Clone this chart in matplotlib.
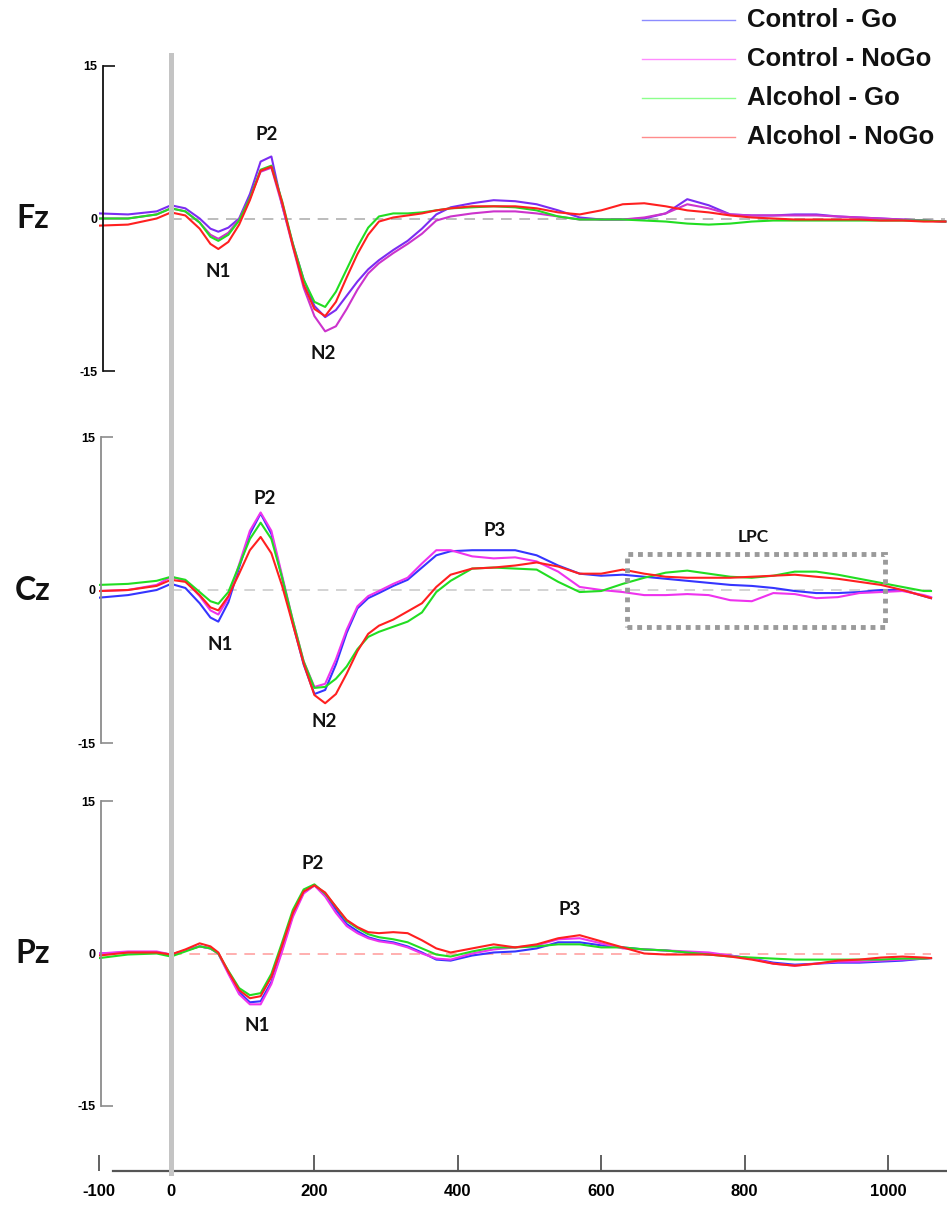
import matplotlib
matplotlib.use('Agg')
from matplotlib import pyplot as plt
from matplotlib.lines import Line2D
from matplotlib.patches import Rectangle
from matplotlib import transforms

plt.rcParams['axes.unicode_minus'] = False

# time points (ms)
times = [-100, -60, -20, 0, 20, 40, 55, 66, 80, 95, 110, 125, 140, 155, 170, 185,
         200, 215, 230, 245, 260, 275, 290, 310, 330, 350, 370, 390, 420, 450, 480,
         510, 540, 570, 600, 630, 660, 690, 720, 750, 780, 810, 840, 870, 900, 930,
         960, 990, 1020, 1050]
times_fz = times + [1080]
times_cp = times + [1060]

conditions = ['Control - Go', 'Control - NoGo', 'Alcohol - Go', 'Alcohol - NoGo']

# Fz (uV)
fz_control_go = [0.5, 0.4, 0.7, 1.3, 1.0, 0.0, -1.0, -1.3, -0.9, 0.0, 2.4, 5.6, 6.1, 1.3, -2.5, -6.0,
                 -8.6, -9.7, -9.0, -7.6, -6.2, -5.0, -4.1, -3.1, -2.2, -1.0, 0.4, 1.1, 1.5, 1.8, 1.7,
                 1.4, 0.8, 0.1, -0.1, -0.1, 0.0, 0.5, 1.9, 1.3, 0.4, 0.3, 0.3, 0.4, 0.4, 0.2,
                 0.1, 0.0, -0.1, -0.2, -0.3]
fz_control_nogo = [0.0, 0.0, 0.4, 1.0, 0.7, -0.4, -1.6, -2.0, -1.4, -0.1, 2.0, 4.6, 5.0, 1.3, -2.8, -6.8,
                   -9.6, -11.1, -10.6, -8.9, -7.0, -5.4, -4.4, -3.4, -2.5, -1.5, -0.2, 0.2, 0.5, 0.7, 0.7,
                   0.5, 0.2, -0.1, -0.1, -0.1, 0.1, 0.5, 1.4, 1.0, 0.4, 0.3, 0.3, 0.3, 0.3, 0.2,
                   0.1, 0.0, -0.1, -0.2, -0.3]
fz_alcohol_go = [0.0, 0.0, 0.4, 1.0, 0.7, -0.4, -1.8, -2.2, -1.6, -0.2, 2.0, 4.8, 5.2, 1.7, -2.5, -6.0,
                 -8.2, -8.7, -7.2, -5.0, -2.8, -0.9, 0.2, 0.5, 0.5, 0.6, 0.8, 1.0, 1.1, 1.2, 1.1,
                 0.8, 0.2, -0.1, -0.1, -0.1, -0.2, -0.3, -0.5, -0.6, -0.5, -0.3, -0.2, -0.2, -0.2, -0.2,
                 -0.2, -0.2, -0.2, -0.2, -0.3]
fz_alcohol_nogo = [-0.7, -0.6, 0.0, 0.6, 0.3, -1.0, -2.5, -3.0, -2.3, -0.6, 1.8, 4.7, 5.1, 1.6, -2.7, -6.5,
                   -8.9, -9.6, -8.2, -5.8, -3.5, -1.6, -0.3, 0.1, 0.3, 0.5, 0.8, 1.0, 1.2, 1.2, 1.2,
                   1.0, 0.6, 0.4, 0.8, 1.4, 1.5, 1.2, 0.8, 0.6, 0.3, 0.1, 0.0, -0.1, -0.1, -0.1,
                   -0.1, -0.2, -0.2, -0.3, -0.3]

# Cz (uV)
cz_control_go = [-0.75, -0.5, 0.0, 0.6, 0.2, -1.3, -2.7, -3.1, -1.2, 2.2, 5.5, 7.5, 5.5, 1.2, -3.3, -7.3,
                 -10.2, -9.8, -7.3, -4.2, -1.8, -0.8, -0.3, 0.4, 1.0, 2.2, 3.4, 3.8, 3.9, 3.9, 3.9,
                 3.4, 2.4, 1.6, 1.4, 1.5, 1.3, 1.1, 0.9, 0.7, 0.5, 0.4, 0.2, -0.1, -0.3, -0.3,
                 -0.2, 0.0, 0.0, -0.6, -0.8]
cz_control_nogo = [-0.1, 0.0, 0.5, 1.3, 0.9, -0.6, -2.0, -2.4, -0.8, 2.5, 5.8, 7.6, 5.8, 1.4, -3.0, -7.0,
                   -9.5, -9.2, -6.8, -3.9, -1.6, -0.6, -0.1, 0.6, 1.2, 2.6, 3.9, 3.9, 3.3, 3.1, 3.2,
                   2.8, 1.8, 0.3, 0.0, -0.2, -0.5, -0.5, -0.4, -0.5, -1.0, -1.1, -0.3, -0.4, -0.8, -0.7,
                   -0.3, -0.2, -0.1, -0.5, -0.7]
cz_alcohol_go = [0.5, 0.6, 0.9, 1.3, 1.0, -0.2, -1.1, -1.35, -0.2, 2.4, 5.0, 6.6, 5.0, 1.2, -3.0, -7.0,
                 -9.6, -9.5, -8.7, -7.5, -5.8, -4.6, -4.1, -3.6, -3.1, -2.2, -0.2, 0.9, 2.1, 2.2, 2.1,
                 2.0, 0.8, -0.2, -0.1, 0.6, 1.2, 1.7, 1.9, 1.6, 1.3, 1.2, 1.4, 1.8, 1.8, 1.5,
                 1.1, 0.7, 0.3, -0.1, -0.1]
cz_alcohol_nogo = [-0.1, 0.0, 0.4, 1.0, 0.8, -0.5, -1.7, -2.0, -0.6, 1.6, 3.9, 5.2, 3.6, 0.4, -3.4, -7.2,
                   -10.3, -11.1, -10.2, -8.2, -6.0, -4.3, -3.5, -2.9, -2.1, -1.3, 0.3, 1.5, 2.1, 2.2, 2.4,
                   2.7, 2.3, 1.6, 1.6, 2.0, 1.6, 1.3, 1.2, 1.2, 1.2, 1.3, 1.4, 1.5, 1.3, 1.1,
                   0.8, 0.5, 0.0, -0.6, -0.8]

# Pz (uV)
pz_control_go = [0.0, 0.1, 0.1, -0.1, 0.3, 0.7, 0.5, 0.0, -1.9, -3.8, -4.8, -4.7, -2.8, 0.4, 3.8, 6.0,
                 6.7, 5.8, 4.3, 2.9, 2.2, 1.6, 1.3, 1.1, 0.7, 0.1, -0.6, -0.7, -0.2, 0.1, 0.2,
                 0.5, 1.1, 1.1, 0.8, 0.6, 0.4, 0.3, 0.1, -0.1, -0.2, -0.5, -0.9, -1.1, -1.0, -0.9,
                 -0.9, -0.8, -0.7, -0.5, -0.45]
pz_control_nogo = [0.0, 0.2, 0.2, -0.1, 0.3, 0.7, 0.5, 0.0, -2.0, -4.0, -5.0, -5.0, -3.0, 0.2, 3.6, 5.9,
                   6.7, 5.6, 4.0, 2.7, 2.0, 1.5, 1.2, 1.0, 0.6, 0.0, -0.5, -0.6, 0.0, 0.4, 0.6,
                   0.8, 1.4, 1.5, 1.0, 0.5, 0.4, 0.3, 0.2, 0.1, -0.2, -0.5, -1.0, -1.2, -1.0, -0.8,
                   -0.8, -0.7, -0.6, -0.5, -0.45]
pz_alcohol_go = [-0.45, -0.1, 0.0, -0.3, 0.2, 0.7, 0.5, 0.0, -1.7, -3.4, -4.1, -3.9, -2.0, 1.1, 4.3, 6.3,
                 6.8, 5.9, 4.6, 3.2, 2.5, 1.9, 1.6, 1.4, 1.1, 0.5, -0.1, -0.3, 0.2, 0.6, 0.6,
                 0.7, 0.9, 0.9, 0.6, 0.6, 0.4, 0.3, 0.1, -0.1, -0.3, -0.4, -0.5, -0.6, -0.6, -0.6,
                 -0.6, -0.6, -0.5, -0.5, -0.45]
pz_alcohol_nogo = [-0.2, 0.1, 0.1, -0.1, 0.4, 1.0, 0.7, 0.1, -1.8, -3.6, -4.4, -4.2, -2.3, 0.8, 4.0, 6.1,
                   6.7, 6.0, 4.6, 3.3, 2.6, 2.1, 2.0, 2.1, 2.0, 1.3, 0.5, 0.1, 0.5, 0.9, 0.6,
                   0.9, 1.5, 1.8, 1.2, 0.6, 0.0, -0.1, -0.1, -0.1, -0.3, -0.6, -1.0, -1.2, -1.0, -0.7,
                   -0.6, -0.4, -0.3, -0.4, -0.45]

W, H = 947, 1205
fig = plt.figure(figsize=(W / 100.0, H / 100.0), dpi=100)

# pixel layout: 0 ms sits at x=171 px, 0.717 px per ms
X0_PX = 171.0
PX_PER_MS = 0.717
XMIN = -100.0
XMAX = (W - X0_PX) / PX_PER_MS
LEFT = (X0_PX + XMIN * PX_PER_MS) / W
WIDTH = 1.0 - LEFT


def rect(top_px, bottom_px):
    return [LEFT, 1.0 - bottom_px / H, WIDTH, (bottom_px - top_px) / H]


label_font = 'Lato'
tick_font = 'Liberation Sans'

panels = [
    dict(name='Fz', t=times_fz, top=66, bottom=371, spine='#111111', spine_x=-95,
         zero_color='#AAAAAA',
         series=[fz_control_go, fz_control_nogo, fz_alcohol_go, fz_alcohol_nogo],
         colors=['#7B2CF2', '#CC33CC', '#22DD22', '#FF2020'],
         peaks=[('P2', 134, 8.3), ('N1', 66, -5.2), ('N2', 212, -13.3)]),
    dict(name='Cz', t=times_cp, top=437, bottom=743, spine='#8C8C8C', spine_x=-98,
         zero_color='#C8C8C8',
         series=[cz_control_go, cz_control_nogo, cz_alcohol_go, cz_alcohol_nogo],
         colors=['#3535FF', '#EE33EE', '#22DD22', '#FF2020'],
         peaks=[('P2', 131, 9.0), ('N1', 68, -5.3), ('N2', 213, -12.9), ('P3', 452, 5.8)]),
    dict(name='Pz', t=times_cp, top=801, bottom=1106, spine='#8C8C8C', spine_x=-98,
         zero_color='#FF9A9A',
         series=[pz_control_go, pz_control_nogo, pz_alcohol_go, pz_alcohol_nogo],
         colors=['#3535FF', '#EE33EE', '#22DD22', '#FF2020'],
         peaks=[('P2', 198, 8.9), ('N1', 120, -7.1), ('P3', 556, 4.3)]),
]

axes = []
for p in panels:
    ax = fig.add_axes(rect(p['top'], p['bottom']))
    ax.set_xlim(XMIN, XMAX)
    ax.set_ylim(-15, 15)
    ax.patch.set_visible(False)
    for s in ['top', 'right', 'bottom']:
        ax.spines[s].set_visible(False)
    ax.spines['left'].set_position(('data', p['spine_x']))
    ax.spines['left'].set_color(p['spine'])
    ax.spines['left'].set_linewidth(1.3)
    ax.set_xticks([])
    ax.set_yticks([-15, 0, 15])
    ax.set_yticklabels(['-15', '0', '15'])
    ax.tick_params(axis='y', direction='in', length=8.5, width=1.2, color=p['spine'], pad=4, labelsize=9)
    ax.yaxis.get_major_ticks()[1].tick1line.set_visible(False)
    for lab in ax.get_yticklabels():
        lab.set_fontweight('bold')
        lab.set_family(tick_font)

    ax.hlines(0, 0, p['t'][-1], colors=p['zero_color'], linestyles=(0, (7, 5)), lw=1.1, zorder=1)

    for vals, col, cond in zip(p['series'], p['colors'], conditions):
        ax.plot(p['t'], vals, color=col, lw=1.5, label=cond, zorder=2)

    for txt, xm, yv in p['peaks']:
        ax.text(xm, yv, txt, ha='center', va='center', fontsize=13.5, fontweight='bold',
                family=label_font, color='#111111')

    fig.text(33.0 / W, 1.0 - (p['top'] + p['bottom']) / 2.0 / H, p['name'], ha='center', va='center',
             fontsize=23, fontweight='bold', family=label_font, color='#111111')
    axes.append(ax)

# LPC window on Cz
ax_cz = axes[1]
ax_cz.add_patch(Rectangle((636, -3.6), 360, 7.1, fill=False, edgecolor='#9A9A9A', lw=3.5,
                          linestyle=(0, (1, 1)), clip_on=False, zorder=3))
ax_cz.text(812, 5.2, 'LPC', ha='center', va='center', fontsize=12.5, fontweight='bold',
           family=label_font, color='#111111')

# shared time axis at the bottom
ax_t = fig.add_axes([LEFT, 1.0 - 1171.0 / H, WIDTH, 20.0 / H])
ax_t.set_xlim(XMIN, XMAX)
ax_t.patch.set_visible(False)
for s in ['top', 'right', 'left']:
    ax_t.spines[s].set_visible(False)
ax_t.spines['bottom'].set_color('#555555')
ax_t.spines['bottom'].set_linewidth(1.6)
ax_t.spines['bottom'].set_bounds(-81, XMAX)
ax_t.set_yticks([])
ax_t.set_xticks([-100, 0, 200, 400, 600, 800, 1000])
ax_t.tick_params(axis='x', direction='in', length=11.5, width=1.3, color='#555555', pad=9, labelsize=12)
for lab in ax_t.get_xticklabels():
    lab.set_fontweight('bold')
    lab.set_family(tick_font)

# stimulus onset marker through all panels
trans = transforms.blended_transform_factory(ax_t.transData, fig.transFigure)
fig.add_artist(Line2D([0, 0], [1.0 - 55.0 / H, 1.0 - 1173.0 / H], transform=trans,
                      color='#C4C4C4', lw=3.6, zorder=5))

# legend, top right
legend_colors = ['#8C8CFF', '#FF8CFF', '#8CFF8C', '#FF8C8C']
for i, (cond, col) in enumerate(zip(conditions, legend_colors)):
    y = 1.0 - (20.0 + 39.0 * i) / H
    fig.add_artist(Line2D([642.0 / W, 735.0 / W], [y, y], transform=fig.transFigure, color=col, lw=1.0))
    fig.text(747.0 / W, y, cond, ha='left', va='center', fontsize=18.5, fontweight='bold',
             family=tick_font, color='#111111')

fig.savefig('out.png', dpi=100, facecolor='white')
